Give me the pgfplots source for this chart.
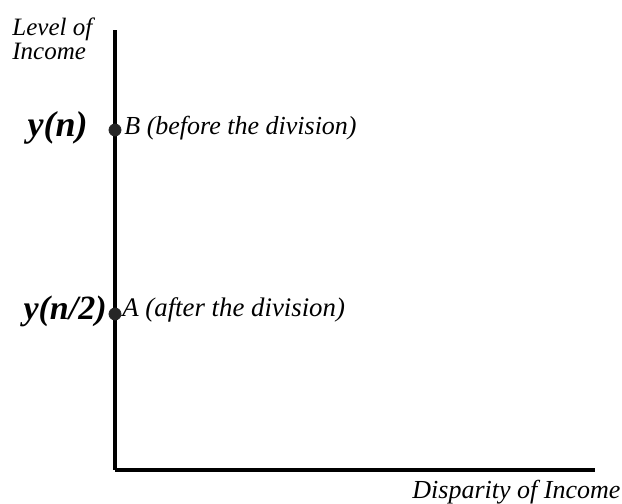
\documentclass[border=0pt]{standalone}
\usepackage{fontspec}
\setmainfont{Liberation Serif}
\usepackage{pgfplots}
\pgfplotsset{compat=1.18}
\begin{document}
\begin{tikzpicture}
\path[use as bounding box] (0,0) rectangle (311pt,252pt);
\clip (0,0) rectangle (311pt,252pt);
\begin{axis}[
  at={(57.5pt,17pt)}, anchor=south west,
  scale only axis, width=240pt, height=220pt,
  xmin=0, xmax=10, ymin=0, ymax=10,
  axis lines=left, axis line style={-, line width=1.6pt, black},
  xtick=\empty, ytick=\empty,
  clip=false,
]
\addplot[only marks, mark=*, mark size=3pt, color=black!85] coordinates {(0,7.727) (0,3.545)};
\end{axis}
\node[anchor=north west, align=left, font=\fontsize{12.5}{12}\selectfont\itshape, inner sep=0pt] at (6pt,243pt) {Level of\\Income};
\node[anchor=east, font=\fontsize{18}{20}\selectfont\bfseries\itshape, inner sep=0pt] at (44pt,188pt) {y(n)};
\node[anchor=east, font=\fontsize{17}{20}\selectfont\bfseries\itshape, inner sep=0pt] at (53.5pt,96.5pt) {y(n/2)};
\node[anchor=west, font=\fontsize{13}{15}\selectfont\itshape, inner sep=0pt] at (62pt,188pt) {B (before the division)};
\node[anchor=west, font=\fontsize{13.4}{15}\selectfont\itshape, inner sep=0pt] at (61pt,97pt) {A (after the division)};
\node[anchor=west, font=\fontsize{13}{15}\selectfont\itshape, inner sep=0pt] at (206pt,6pt) {Disparity of Income};
\end{tikzpicture}
\end{document}
